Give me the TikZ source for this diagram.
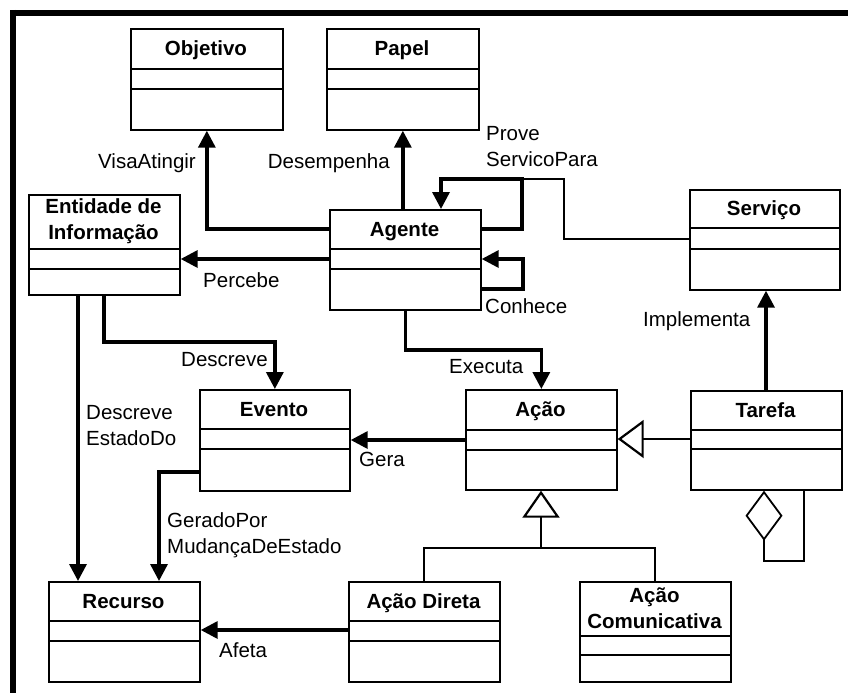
\documentclass[tikz,border=0pt]{standalone}
\usepackage{fontspec}
\setmainfont{Liberation Sans}
\usetikzlibrary{arrows.meta}
\newcommand\classdividers[3]{%
  \draw[div] (#1.west |- 0,#2) -- (#1.east |- 0,#2);
  \draw[div] (#1.west |- 0,#3) -- (#1.east |- 0,#3);}
\begin{document}
\begin{tikzpicture}[x=1pt,y=-1pt,
  font=\fontsize{20.5}{26}\selectfont,
  cls/.style={draw, line width=1.7pt, inner sep=0pt, anchor=north west},
  ttl/.style={font=\fontsize{20.5}{26}\selectfont\bfseries, inner sep=0pt, align=center},
  ttlone/.style={ttl, text height=14.7pt, text depth=0pt},
  div/.style={line width=1.5pt},
  assoc/.style={line width=3.4pt, -{Triangle[length=17pt,width=17pt]}},
  lbl/.style={inner sep=0pt, align=left},
  gen/.style={line width=2.2pt},
  link/.style={line width=1.8pt},
  frame/.style={line width=6pt},
]
\useasboundingbox (0,0) rectangle (848,693);
% frame
\draw[frame] (10,13) -- (848,13);
\draw[frame] (13,10) -- (13,693);

% classes
\node[cls, minimum width=152pt, minimum height=101pt] (obj) at (130,28) {};
\classdividers{obj}{69}{89}
\node[ttlone] (objt) at (206,48.5) {Objetivo};

\node[cls, minimum width=152pt, minimum height=101pt] (pap) at (326,28) {};
\classdividers{pap}{69}{89}
\node[ttlone] (papt) at (402,48.5) {Papel};

\node[cls, minimum width=151pt, minimum height=100pt] (ag) at (329,209) {};
\classdividers{ag}{249}{269}
\node[ttlone] (agt) at (404.5,229) {Agente};

\node[cls, minimum width=151pt, minimum height=100pt] (ent) at (28,194) {};
\classdividers{ent}{249}{269}
\node[ttl] (entt) at (103.5,221.5) {Entidade de\\Informação};

\node[cls, minimum width=150pt, minimum height=100pt] (srv) at (689,189) {};
\classdividers{srv}{228}{249}
\node[ttlone] (srvt) at (764,208.5) {Serviço};

\node[cls, minimum width=150pt, minimum height=101pt] (evt) at (199,389) {};
\classdividers{evt}{429}{449}
\node[ttlone] (evtt) at (274,409) {Evento};

\node[cls, minimum width=151pt, minimum height=100pt] (acao) at (465,389) {};
\classdividers{acao}{430}{450}
\node[ttlone] (acaot) at (540.5,409.5) {Ação};

\node[cls, minimum width=151pt, minimum height=99pt] (tar) at (690,390) {};
\classdividers{tar}{430}{449}
\node[ttlone] (tart) at (765.5,410) {Tarefa};

\node[cls, minimum width=151pt, minimum height=100pt] (rec) at (48,581) {};
\classdividers{rec}{621}{641}
\node[ttlone] (rect) at (123.5,601) {Recurso};

\node[cls, minimum width=151pt, minimum height=100pt] (ad) at (348,581) {};
\classdividers{ad}{621}{641}
\node[ttlone] (adt) at (423.5,601) {Ação Direta};

\node[cls, minimum width=151pt, minimum height=100pt] (ac) at (579,581) {};
\classdividers{ac}{636}{655}
\node[ttl] (act) at (654.5,608.5) {Ação\\Comunicativa};

% associations
\draw[assoc] (ag.west |- 0,229) -| (obj.south);
\node[lbl, anchor=east] (l1) at (196,163) {VisaAtingir};

\draw[assoc] (pap.south |- ag.north) -- (pap.south);
\node[lbl, anchor=east] (l2) at (390,163) {Desempenha};

\coordinate (pj) at (522,179);
\draw[assoc] (ag.east |- 0,229) -- (522,229) -- (pj) -- (441,179) -- (ag.north -| 441,0);
\draw[link] (pj) -- (564,179) -- (564,239) -- (srv.west |- 0,239);
\node[lbl, anchor=west] (l3) at (486,147) {Prove\\ServicoPara};

\draw[assoc] (ag.east |- 0,289) -- (523,289) -- (523,259) -- (ag.east |- 0,259);
\node[lbl, anchor=west] (l4) at (485,306) {Conhece};

\draw[assoc] (ag.west |- 0,259) -- (ent.east |- 0,259);
\node[lbl, anchor=west] (l5) at (203,280) {Percebe};

\draw[assoc] (ag.south) |- (acao.north |- 0,350) -- (acao.north);
\node[lbl, anchor=west] (l6) at (449,367) {Executa};

\draw[assoc] (ent.south -| 104,0) |- (evt.north |- 0,342) -- (evt.north);
\node[lbl, anchor=east] (l7) at (268,360) {Descreve};

\draw[assoc] (ent.south -| 78,0) -- (rec.north -| 78,0);
\node[lbl, anchor=west] (l8) at (86,426) {Descreve\\EstadoDo};

\draw[assoc] (evt.west |- 0,472) -| (rec.north -| 159,0);
\node[lbl, anchor=west] (l9) at (167,535) {GeradoPor\\MudançaDeEstado};

\draw[assoc] (acao.west |- 0,440) -- (evt.east |- 0,440);
\node[lbl, anchor=west] (l10) at (359,459) {Gera};

\draw[assoc] (tar.north -| 766,0) -- (srv.south -| 766,0);
\node[lbl, anchor=west] (l11) at (643,321) {Implementa};

\draw[assoc] (ad.west |- 0,630) -- (rec.east |- 0,630);
\node[lbl, anchor=west] (l12) at (219,650) {Afeta};

% generalizations
\draw[gen, -{Triangle[open,length=26pt,width=38pt]}] (tar.west |- 0,439) -- (acao.east |- 0,439);
\coordinate (gj) at (541,548);
\draw[gen, -{Triangle[open,length=27pt,width=37pt]}] (gj) -- (acao.south -| gj);
\draw[gen] (ad.north) |- (gj) -| (ac.north);

% aggregation
\draw[link, {Diamond[open,length=50pt,width=37pt]}-] (tar.south -| 764,0) -- (764,561) -| (tar.south -| 804,0);
\end{tikzpicture}
\end{document}
